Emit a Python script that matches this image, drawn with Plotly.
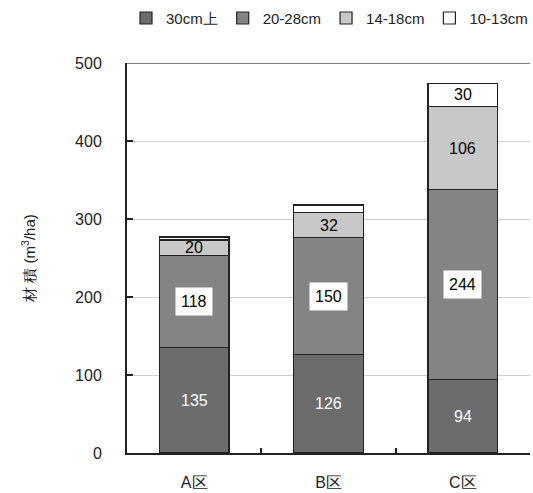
import plotly.graph_objects as go

categories = ["A区", "B区", "C区"]
series_names = ["30cm上", "20-28cm", "14-18cm", "10-13cm"]
v30 = [135, 126, 94]
v20 = [118, 150, 244]
v14 = [20, 32, 106]
v10 = [4, 10, 30]
labels_shown = [[True, True, True], [True, True, True], [True, True, True], [False, False, True]]

series = [v30, v20, v14, v10]
colors = ["#6c6c6c", "#848484", "#c8c8c8", "#ffffff"]
text_colors = ["white", "black", "black", "black"]
boxed = [False, True, False, False]

fig = go.Figure()
for name, vals, col in zip(series_names, series, colors):
    fig.add_trace(go.Bar(
        x=categories, y=vals, name=name,
        marker=dict(color=col, line=dict(color="#222222", width=1.2)),
        width=0.52,
    ))

annotations = []
for si, vals in enumerate(series):
    for ci, cat in enumerate(categories):
        if not labels_shown[si][ci]:
            continue
        base = sum(series[k][ci] for k in range(si))
        mid = base + vals[ci] / 2
        ann = dict(x=cat, y=mid, text=str(vals[ci]), showarrow=False,
                   font=dict(size=16, color=text_colors[si], family="Liberation Sans, Arial"),
                   xref="x", yref="y")
        if boxed[si]:
            ann.update(bgcolor="white", borderpad=5)
        annotations.append(ann)

fig.update_layout(
    barmode="stack",
    width=533, height=493,
    margin=dict(l=127, r=3, t=63, b=40, autoexpand=False),
    paper_bgcolor="white", plot_bgcolor="white",
    font=dict(family="Liberation Sans, Arial", size=16, color="#222222"),
    showlegend=True,
    legend=dict(orientation="h", x=1.0, xanchor="right", xref="container",
                y=0.963, yanchor="middle", yref="container",
                font=dict(size=15), traceorder="normal", itemwidth=30,
                bgcolor="rgba(0,0,0,0)"),
    annotations=annotations,
)
fig.update_yaxes(
    range=[0, 500], dtick=100, showgrid=True, gridcolor="#d0d0d0", gridwidth=1,
    showline=True, linecolor="#222222", linewidth=2, ticks="inside", ticklen=6,
    tickcolor="#222222", tickwidth=2, ticklabelstandoff=20,
    title=dict(text="材 積 (m<sup>3</sup>/ha)", standoff=36, font=dict(size=15)),
    tickfont=dict(size=16), zeroline=False,
)
fig.update_xaxes(
    showline=True, linecolor="#222222", linewidth=2, ticks="inside", ticklen=5,
    tickson="boundaries", tickcolor="#222222", tickwidth=2,
    tickfont=dict(size=16), ticklabelstandoff=14,
)
# top border line
fig.add_shape(type="line", xref="paper", yref="y", x0=0, x1=1, y0=500, y1=500,
              line=dict(color="#555555", width=1.5))
fig.write_html("out.html")
